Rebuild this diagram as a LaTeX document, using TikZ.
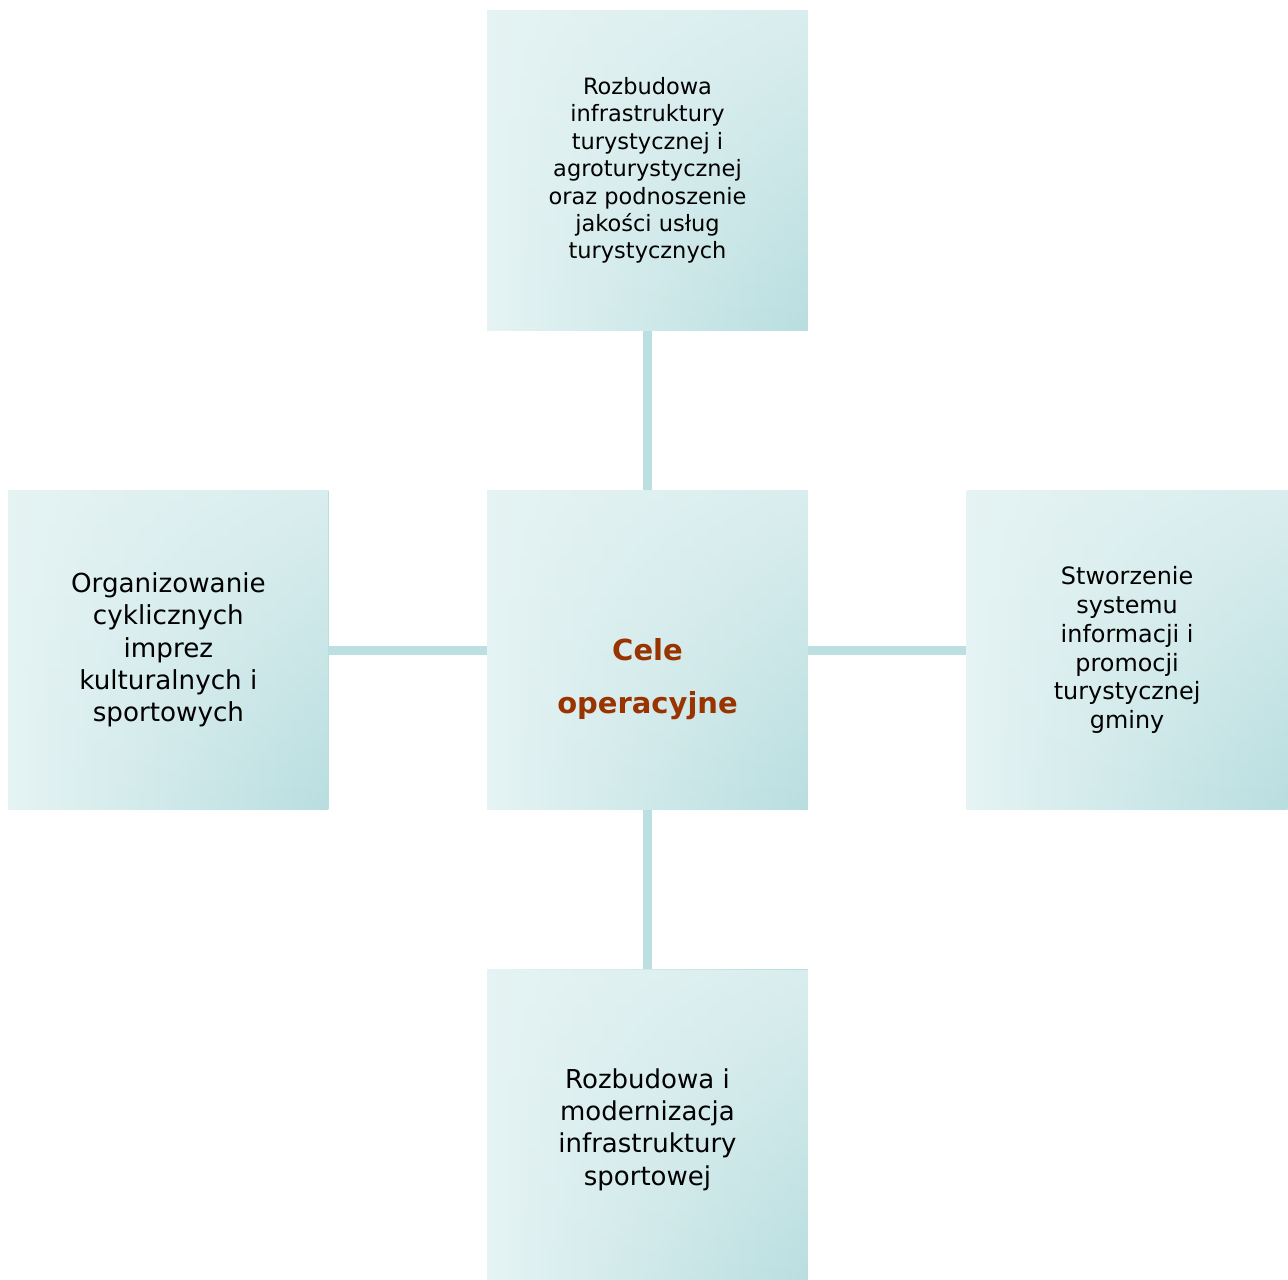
\documentclass[tikz,border=0pt]{standalone}
\usepackage{fontspec}
\setmainfont{DejaVu Sans}
\usetikzlibrary{positioning,fadings}

\definecolor{jasny}{HTML}{E5F3F3}
\definecolor{ciemny}{HTML}{B9DEE0}
\definecolor{linia}{HTML}{BCE0E1}
\definecolor{brazowy}{HTML}{993300}

\begin{document}
\begin{tikzpicture}[x=0.02cm,y=-0.02cm,
  cel/.style={rectangle,minimum width=6.42cm,minimum height=6.4cm,inner sep=0pt,
    align=center,left color=jasny,right color=ciemny,
    postaction={fill=jasny,path fading=south,fill opacity=0.75}},
  laczenie/.style={draw=linia,line width=0.18cm}]

\useasboundingbox (0,0) rectangle (1288,1280);

% cel glowny (srodek)
\node[cel] (srodek) at (647.5,650) {};
\node[font=\fontsize{16.5}{30}\selectfont\bfseries,text=brazowy,align=center] (tytul)
  at ([yshift=-0.58cm]srodek.center) {Cele\\operacyjne};

% cele operacyjne dookola
\node[cel,above=3.18cm of srodek,font=\fontsize{12.8}{15.6}\selectfont] (gora)
  {Rozbudowa\\infrastruktury\\turystycznej i\\agroturystycznej\\oraz podnoszenie\\jakości usług\\turystycznych};
\node[cel,left=3.16cm of srodek,minimum width=6.4cm,font=\fontsize{14.9}{18.4}\selectfont] (lewy)
  {Organizowanie\\cyklicznych\\imprez\\kulturalnych i\\sportowych};
\node[cel,right=3.16cm of srodek,font=\fontsize{13.6}{16.4}\selectfont] (prawy)
  {Stworzenie\\systemu\\informacji i\\promocji\\turystycznej\\gminy};
\node[cel,below=3.18cm of srodek,font=\fontsize{14.8}{18.4}\selectfont] (dol)
  {Rozbudowa i\\modernizacja\\infrastruktury\\sportowej};

% polaczenia
\draw[laczenie] (gora) -- (srodek);
\draw[laczenie] (lewy) -- (srodek);
\draw[laczenie] (prawy) -- (srodek);
\draw[laczenie] (dol) -- (srodek);

\end{tikzpicture}
\end{document}
